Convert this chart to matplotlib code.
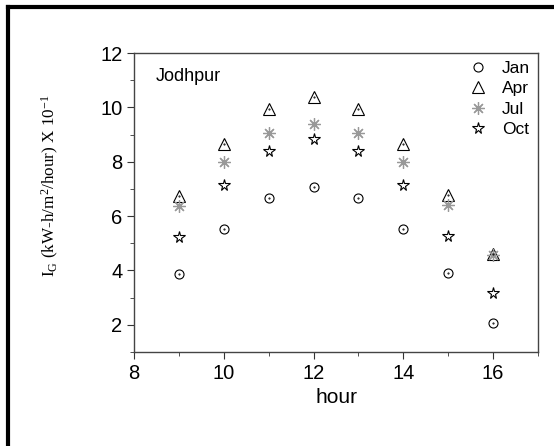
import matplotlib
matplotlib.use('Agg')
import matplotlib.pyplot as plt
from matplotlib.lines import Line2D
from matplotlib.ticker import MultipleLocator

plt.rcParams['font.family'] = 'Liberation Sans'
plt.rcParams['mathtext.fontset'] = 'custom'
plt.rcParams['mathtext.rm'] = 'Liberation Serif'
plt.rcParams['mathtext.it'] = 'Liberation Serif'

hours = [9, 10, 11, 12, 13, 14, 15, 16]
jan = [3.87, 5.54, 6.68, 7.08, 6.68, 5.54, 3.89, 2.07]
apr = [6.74, 8.66, 9.95, 10.40, 9.95, 8.66, 6.76, 4.60]
jul = [6.38, 8.00, 9.05, 9.40, 9.05, 8.00, 6.42, 4.58]
oct_ = [5.22, 7.13, 8.41, 8.85, 8.41, 7.13, 5.27, 3.17]

fig = plt.figure(figsize=(5.54, 4.46), dpi=100)
ax = fig.add_axes([0.242, 0.211, 0.729, 0.670])

ax.plot(hours, jan, 'o', ms=6.5, mfc='white', mec='black', mew=0.8, ls='none', label='Jan')
ax.plot(hours, apr, '^', ms=8, mfc='white', mec='black', mew=0.8, ls='none', label='Apr')
ax.plot(hours, jul, marker=(8, 2, 0), ms=9, color='#999999', mew=0.9, ls='none', label='Jul')
ax.plot(hours, oct_, '*', ms=8.5, mfc='white', mec='black', mew=0.8, ls='none', label='Oct')
# little center dots like the original
ax.plot(hours, jan, '.', ms=1, color='black')
ax.plot(hours, apr, '.', ms=1, color='black')

ax.set_xlim(8, 17)
ax.set_ylim(1, 12)
ax.xaxis.set_major_locator(MultipleLocator(2))
ax.xaxis.set_minor_locator(MultipleLocator(1))
ax.yaxis.set_major_locator(MultipleLocator(2))
ax.yaxis.set_minor_locator(MultipleLocator(1))
ax.tick_params(which='both', direction='out', labelsize=14.5, colors='#333333', labelcolor='black')
ax.tick_params(which='major', length=5)
ax.tick_params(which='minor', length=3)
for s in ax.spines.values():
    s.set_color('#444444')
    s.set_linewidth(1.0)

ax.set_xlabel('hour', fontsize=15)
ax.set_ylabel(r'I$_\mathrm{G}$ (kW-h/m$^2$/hour) X 10$^{-1}$', fontsize=12.3,
              family='Liberation Serif')
ax.yaxis.set_label_coords(-0.18, 0.555)
ax.text(0.054, 0.923, 'Jodhpur', transform=ax.transAxes, fontsize=13, va='center')

ax.legend(loc='upper right', frameon=False, fontsize=12.5, handletextpad=0.9,
          borderaxespad=0.15, labelspacing=0.3, handlelength=1.0, borderpad=0.3)

fig.add_artist(Line2D([0.0144, 0.0144], [0, 0.985], color='black', lw=3, transform=fig.transFigure))
fig.add_artist(Line2D([0.0144, 1.0], [0.985, 0.985], color='black', lw=3, transform=fig.transFigure))

fig.savefig('out.png', dpi=100)
